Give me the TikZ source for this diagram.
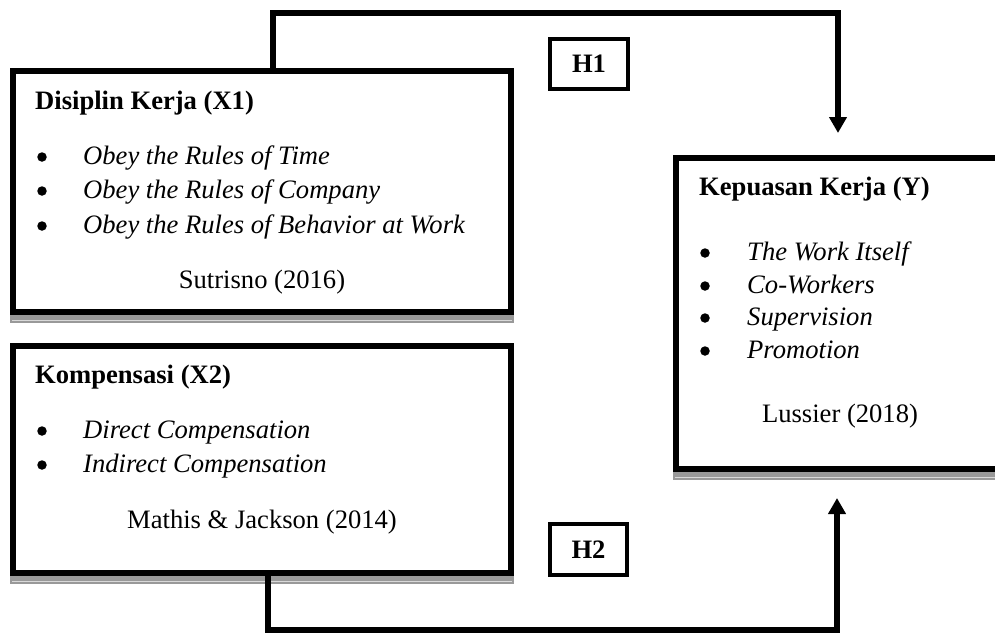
\documentclass[tikz,border=0pt]{standalone}
\usepackage{fontspec}
\setmainfont{Liberation Serif}
\usetikzlibrary{arrows.meta,calc}
\begin{document}
\begin{tikzpicture}[x=1pt,y=-1pt,
  bigbox/.style={draw=black,line width=6pt,inner sep=0pt,rectangle},
  hbox/.style={draw=black,line width=4pt,inner sep=0pt,rectangle,font=\fontsize{26.6}{32}\selectfont\bfseries},
  title/.style={anchor=base west,inner sep=0pt,font=\fontsize{26.6}{32}\selectfont\bfseries},
  item/.style={anchor=base west,inner sep=0pt,font=\fontsize{26.6}{32}\selectfont\itshape},
  bul/.style={circle,fill=black,draw=none,inner sep=0pt,minimum size=9.5pt},
  src/.style={anchor=base,inner sep=0pt,font=\fontsize{26.6}{32}\selectfont},
  conn/.style={draw=black,line width=5.5pt},
  tip/.style={-{Triangle[length=16pt,width=17pt]}},
  shadowstrip/.style={fill=black!40,draw=none},
  shadowline/.style={draw=black!15,line width=0.8pt}
]
\clip (0,0) rectangle (995,633);
\useasboundingbox (0,0) rectangle (995,633);

% gray shadow strips
\fill[shadowstrip] (10,315) rectangle (514,323);
\draw[shadowline] (12,320) -- (512,320);
\fill[shadowstrip] (10,576) rectangle (514,584);
\draw[shadowline] (12,581) -- (512,581);
\fill[shadowstrip] (673,472) rectangle (1000,480);
\draw[shadowline] (675,477) -- (1000,477);

% boxes
\node[bigbox,minimum width=498pt,minimum height=241pt] (X1) at (262,191.5) {};
\node[bigbox,minimum width=498pt,minimum height=227pt] (X2) at (262,459.5) {};
\node[bigbox,minimum width=334pt,minimum height=311pt] (Y) at (843,313.5) {};
\node[hbox,minimum width=78pt,minimum height=50pt] (H1) at (589,64) {H1};
\node[hbox,minimum width=77pt,minimum height=51pt] (H2) at (588.5,549.5) {H2};

% X1 text
\node[title] (t1) at (35,109) {Disiplin Kerja (X1)};
\node[bul] (b11) at (42,157) {};
\node[item] (i11) at (83,164) {Obey the Rules of Time};
\node[bul] (b12) at (42,191) {};
\node[item] (i12) at (83,198) {Obey the Rules of Company};
\node[bul] (b13) at (42,226) {};
\node[item] (i13) at (83,233) {Obey the Rules of Behavior at Work};
\node[src] (s1) at (262,288) {Sutrisno (2016)};

% X2 text
\node[title] (t2) at (35,383) {Kompensasi (X2)};
\node[bul] (b21) at (42,431) {};
\node[item] (i21) at (83,438) {Direct Compensation};
\node[bul] (b22) at (42,465) {};
\node[item] (i22) at (83,472) {Indirect Compensation};
\node[src] (s2) at (262,528) {Mathis \& Jackson (2014)};

% Y text
\node[title] (t3) at (699,195) {Kepuasan Kerja (Y)};
\node[bul] (b31) at (705,253) {};
\node[item] (i31) at (747,260) {The Work Itself};
\node[bul] (b32) at (705,286) {};
\node[item] (i32) at (747,293) {Co-Workers};
\node[bul] (b33) at (705,318) {};
\node[item] (i33) at (747,325) {Supervision};
\node[bul] (b34) at (705,351) {};
\node[item] (i34) at (747,358) {Promotion};
\node[src] (s3) at (840,422) {Lussier (2018)};

% connectors
\coordinate (c1) at (273,13);
\coordinate (a1) at (838,133);
\draw[conn,tip] (X1.north -| c1) -- (c1) -| (a1);
\coordinate (c2) at (268,630);
\coordinate (a2) at (837,498);
\draw[conn,tip] (X2.south -| c2) -- (c2) -| (a2);
\end{tikzpicture}
\end{document}
